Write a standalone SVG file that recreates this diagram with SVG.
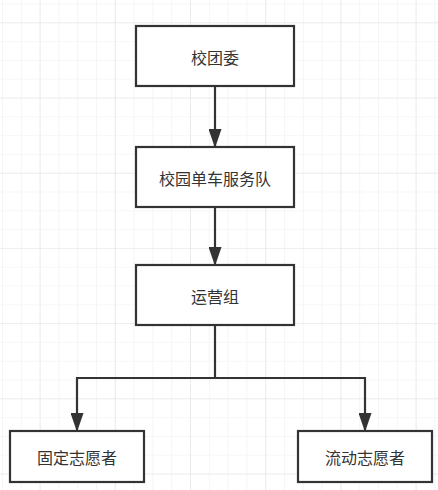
<svg xmlns="http://www.w3.org/2000/svg" width="438" height="490" viewBox="0 0 438 490">
<defs>
<pattern id="gs" patternUnits="userSpaceOnUse" x="2" y="3.5" width="18.8" height="18.8">
<path d="M0 0V18.8M0 0H18.8" fill="none" stroke="#efefef" stroke-width="1.2"/>
</pattern>
<pattern id="gl" patternUnits="userSpaceOnUse" x="39.6" y="22.3" width="75.2" height="75.2">
<path d="M0 0V75.2M0 0H75.2" fill="none" stroke="#e4e4e4" stroke-width="1.2"/>
</pattern>
<marker id="arr" markerUnits="userSpaceOnUse" markerWidth="19" markerHeight="13" refX="18" refY="6.5" viewBox="0 0 19 13" orient="auto">
<path d="M0 0L19 6.5L0 13Z" fill="#333"/>
</marker>
<style>
.box{fill:#fff;stroke:#333;stroke-width:2.2}
.lbl{font-family:"Noto Sans CJK SC","Liberation Sans",sans-serif;font-size:16px;fill:#333;text-anchor:middle;dominant-baseline:central}
.edge{fill:none;stroke:#333;stroke-width:2.2}
</style>
</defs>
<rect width="438" height="490" fill="#fff"/>
<rect width="438" height="490" fill="url(#gs)"/>
<rect width="438" height="490" fill="url(#gl)"/>
<g id="connectors">
<path class="edge" d="M215 86V147" marker-end="url(#arr)"/>
<path class="edge" d="M215 207V265" marker-end="url(#arr)"/>
<path class="edge" d="M215 325V378H77V431" marker-end="url(#arr)"/>
<path class="edge" d="M215 378H365V431" marker-end="url(#arr)"/>
</g>
<g id="n1"><rect class="box" x="136" y="26" width="158" height="60"/><text class="lbl" x="215" y="57">校团委</text></g>
<g id="n2"><rect class="box" x="136" y="147" width="158" height="60"/><text class="lbl" x="215" y="178">校园单车服务队</text></g>
<g id="n3"><rect class="box" x="136" y="265" width="158" height="60"/><text class="lbl" x="215" y="296">运营组</text></g>
<g id="n4"><rect class="box" x="10" y="431" width="134" height="51"/><text class="lbl" x="77" y="457">固定志愿者</text></g>
<g id="n5"><rect class="box" x="298" y="431" width="134" height="51"/><text class="lbl" x="365" y="457">流动志愿者</text></g>
</svg>
